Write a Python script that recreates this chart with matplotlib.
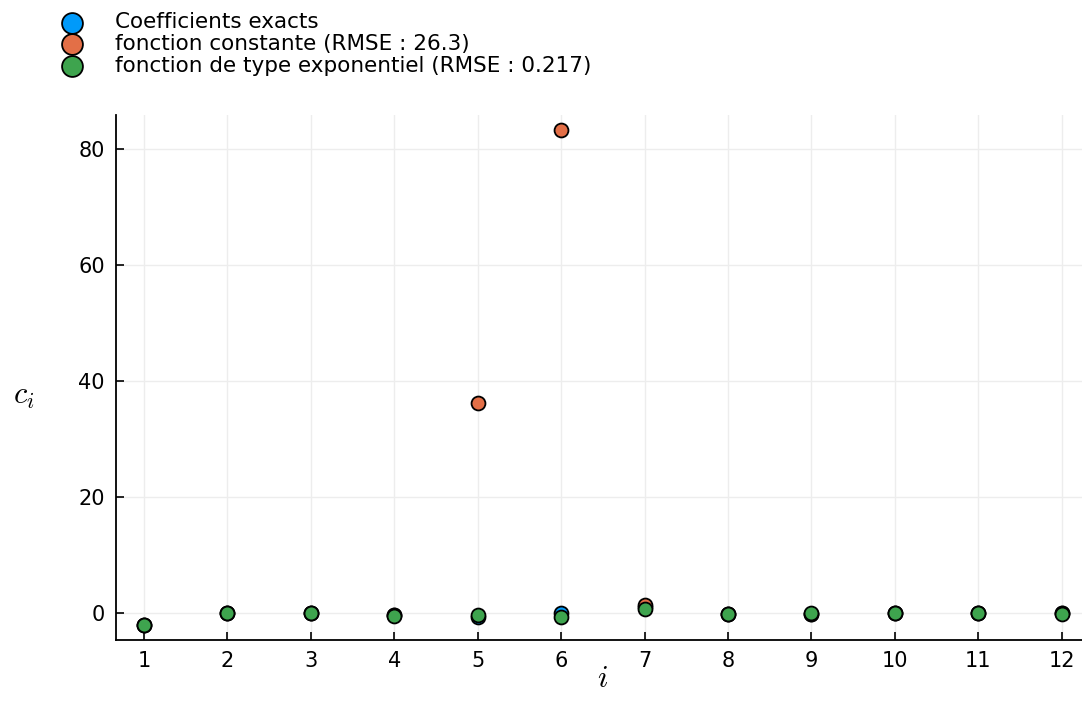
import numpy as np
import matplotlib
matplotlib.use("Agg")
import matplotlib.pyplot as plt

plt.rcParams['mathtext.fontset'] = 'cm'

# Coefficient index and values for each approximation
i = np.arange(1, 13)
c_exact = [-2.0, 0.0, 0.0, -0.3, -0.6, 0.0, 1.1, -0.1, -0.1, 0.0, 0.0, 0.0]
c_const = [-2.0, 0.0, 0.0, -0.3, 36.3, 83.3, 1.4, -0.1, -0.1, 0.0, 0.0, 0.0]
c_expo = [-2.1, 0.1, 0.1, -0.5, -0.3, -0.6, 0.8, -0.1, 0.0, 0.0, 0.0, -0.1]

labels = ["Coefficients exacts",
          "fonction constante (RMSE : 26.3)",
          "fonction de type exponentiel (RMSE : 0.217)"]
colors = ["#009AFA", "#E36F47", "#3EA44E"]

fig = plt.figure(figsize=(10.82, 7.13), dpi=100)
ax = fig.add_axes([0.1072, 0.1024, 0.9, 0.7363])

for y, lab, col in zip([c_exact, c_const, c_expo], labels, colors):
    ax.scatter(i, y, s=100, color=col, edgecolor="black", linewidth=1.3,
               label=lab, zorder=3)

ax.set_xlim(0.664, 12.336)
ax.set_ylim(-4.6, 85.9)
ax.set_xticks(i)
ax.set_yticks([0, 20, 40, 60, 80])
ax.grid(True, color="#ededed", linewidth=1)
ax.tick_params(direction="in", length=6, width=1.2, labelsize=15, pad=8)
for side in ["top", "right"]:
    ax.spines[side].set_visible(False)
for side in ["left", "bottom"]:
    ax.spines[side].set_linewidth(1.3)

ax.set_xlabel("$i$", fontsize=22, labelpad=-5)
ax.set_ylabel("$c_i$", fontsize=22, rotation=0, va="center", ha="center")
ax.yaxis.set_label_coords(-0.095, 0.463)

fig.legend(loc="upper left", bbox_to_anchor=(0.031, 1.007), frameon=False,
           fontsize=15.5, handletextpad=1.0, labelspacing=0.08,
           markerscale=1.5, borderpad=0.3)

fig.savefig("out.png", dpi=100)
